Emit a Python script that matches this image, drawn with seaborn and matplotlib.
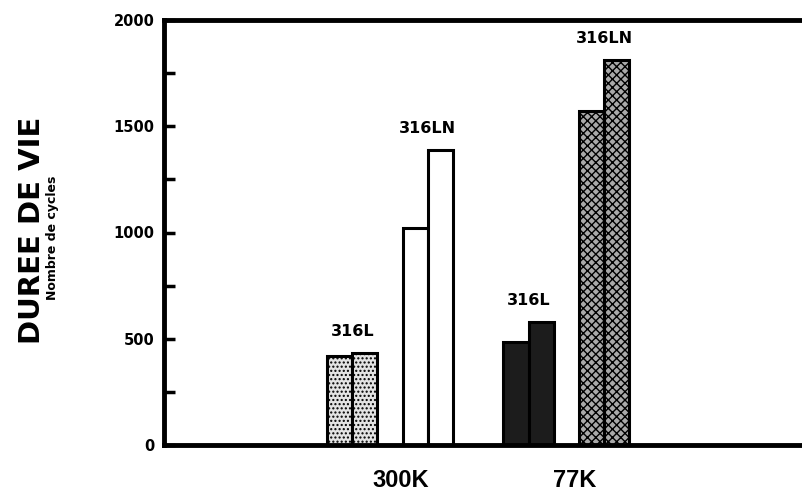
import matplotlib
matplotlib.use("Agg")
import matplotlib.pyplot as plt
from matplotlib.ticker import MultipleLocator
import numpy as np
import pandas as pd
import seaborn as sns

# Fatigue life (number of cycles) for two specimens per steel / temperature
temperatures = ["300K", "300K", "77K", "77K"]
materials = ["316L", "316LN", "316L", "316LN"]
cycles_first = [420, 1020, 485, 1570]
cycles_second = [435, 1390, 580, 1810]

temperature_labels = ["300K", "77K"]
y_ticks = [0, 500, 1000, 1500, 2000]

sns.set_theme(style="white")
plt.rcParams["font.family"] = ["DejaVu Sans"]
plt.rcParams["hatch.linewidth"] = 1.0
for key in ["text.color", "axes.labelcolor", "xtick.color", "ytick.color"]:
    plt.rcParams[key] = "black"

# Slot layout: each pair occupies two adjacent slots, pairs separated by gaps
pair_start = [0, 3, 7, 10]
rows = []
for temp, mat, a, b, s in zip(temperatures, materials, cycles_first, cycles_second, pair_start):
    series = f"{mat} {temp}"
    rows.append({"slot": s, "cycles": a, "series": series})
    rows.append({"slot": s + 1, "cycles": b, "series": series})
df = pd.DataFrame(rows)

series_order = [f"{m} {t}" for m, t in zip(materials, temperatures)]
face = {
    "316L 300K": "#e4e4e4",
    "316LN 300K": "#ffffff",
    "316L 77K": "#1c1c1c",
    "316LN 77K": "#a9a9a9",
}
hatch = {
    "316L 300K": "....",
    "316LN 300K": "",
    "316L 77K": "",
    "316LN 77K": "xxxx",
}

fig = plt.figure(figsize=(8.03, 4.92), dpi=100)
ax = fig.add_axes([164 / 803, 47 / 492, (803 - 164) / 803, 425 / 492])

sns.barplot(
    data=df, x="slot", y="cycles", hue="series", hue_order=series_order,
    palette=face, native_scale=True, dodge=False, width=1.0,
    edgecolor="black", linewidth=2.2, legend=False, ax=ax,
)

for container, name in zip(ax.containers, series_order):
    for bar in container:
        bar.set_hatch(hatch[name])
        bar.set_edgecolor("black")

# Material labels above each pair
for mat, a, b, s in zip(materials, cycles_first, cycles_second, pair_start):
    ax.annotate(mat, xy=(s + 0.5, max(a, b)), xytext=(0, 10),
                textcoords="offset points", ha="center", va="bottom",
                fontsize=11.5, fontweight="bold", color="black")

ax.set_xlim(-6.97, 18.39)
ax.set_ylim(0, 2000)

ax.set_yticks(y_ticks)
ax.set_yticklabels([str(v) for v in y_ticks], fontsize=10.5, fontweight="bold")
ax.yaxis.set_minor_locator(MultipleLocator(250))
ax.tick_params(axis="y", which="both", direction="in", length=8, width=2.5,
               color="black", left=True, right=False, pad=7)

ax.set_xticks([2.44, 9.34])
ax.set_xticklabels(temperature_labels, fontsize=17, fontweight="bold",
                   family=["Liberation Sans", "DejaVu Sans"])
ax.tick_params(axis="x", which="both", length=0, pad=17, bottom=False)

ax.set_xlabel("")
ax.set_ylabel("")

for side in ["left", "top", "bottom"]:
    ax.spines[side].set_visible(True)
    ax.spines[side].set_color("black")
    ax.spines[side].set_linewidth(3.5)
ax.spines["right"].set_visible(False)

fig.text(32 / 803, 1 - 230 / 492, "DUREE DE VIE", rotation=90,
         ha="center", va="center", fontsize=21, fontweight="bold")
fig.text(53 / 803, 1 - 238 / 492, "Nombre de cycles", rotation=90,
         ha="center", va="center", fontsize=9, fontweight="bold")

fig.savefig("out.png", dpi=100)
